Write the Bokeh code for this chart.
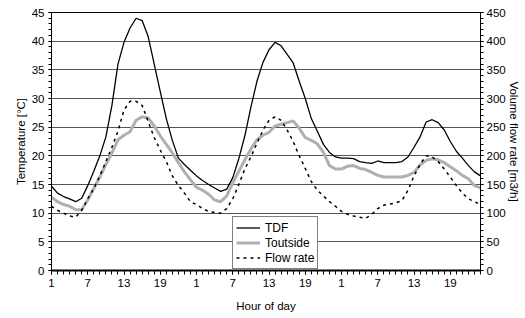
from bokeh.plotting import figure
from bokeh.models import (Range1d, LinearAxis, FixedTicker, SingleIntervalTicker,
                          ColumnDataSource, Legend, LegendItem)
from bokeh.embed import file_html
from bokeh.resources import INLINE

# ---- data ----
hour_index = list(range(1, 73))
major_tick_pos = [1, 7, 13, 19, 25, 31, 37, 43, 49, 55, 61, 67]
tick_labels = ["1", "7", "13", "19", "1", "7", "13", "19", "1", "7", "13", "19"]

tdf = [14.7, 13.5, 12.9, 12.5, 12.0, 12.6, 14.8, 17.3, 20.0, 23.3, 28.8, 36.0,
       39.8, 42.3, 44.0, 43.6, 40.8, 36.0, 31.2, 26.5, 22.7, 19.6, 18.5, 17.5,
       16.5, 15.7, 15.0, 14.4, 13.8, 14.2, 16.2, 19.5, 23.5, 28.5, 33.0, 36.3,
       38.5, 39.8, 39.2, 37.7, 36.2, 33.0, 30.0, 26.5, 24.3, 22.0, 20.6, 19.8,
       19.6, 19.6, 19.5, 19.0, 18.8, 18.7, 19.1, 18.8, 18.8, 18.8, 19.0, 19.8,
       21.5, 23.3, 25.9, 26.3, 25.8, 24.5, 22.5, 20.8, 19.6, 18.3, 17.2, 16.5]

toutside = [12.8, 12.0, 11.5, 11.2, 10.6, 10.6, 12.3, 14.3, 16.3, 18.5, 20.5, 22.8,
            23.6, 24.2, 26.2, 26.8, 26.6, 25.2, 23.5, 22.0, 20.5, 18.8, 17.2, 15.8,
            14.5, 14.0, 13.3, 12.3, 12.0, 13.0, 15.3, 17.3, 19.3, 21.2, 22.8, 23.6,
            24.1, 25.2, 25.5, 25.8, 26.1, 24.8, 23.2, 22.7, 22.1, 20.6, 18.3, 17.7,
            17.7, 18.2, 18.3, 17.8, 17.6, 17.1, 16.6, 16.3, 16.3, 16.3, 16.3, 16.6,
            17.1, 18.4, 19.2, 19.5, 19.3, 18.8, 18.1, 17.4, 16.6, 16.0, 14.8, 14.4]

flow_rate = [112, 105, 100, 95, 93, 105, 125, 143, 165, 190, 215, 243,
             280, 295, 295, 288, 260, 232, 210, 190, 165, 148, 135, 120,
             115, 108, 103, 101, 100, 108, 125, 150, 177, 198, 222, 245,
             262, 268, 262, 245, 225, 200, 178, 155, 140, 130, 120, 112,
             103, 98, 95, 93, 91, 98, 108, 114, 116, 118, 122, 140,
             165, 185, 200, 198, 190, 177, 163, 148, 135, 125, 120, 115]

src = ColumnDataSource(data=dict(h=hour_index, tdf=tdf, tout=toutside, flow=flow_rate))

FONT = "Liberation Sans"

p = figure(width=524, height=317, output_backend="svg", toolbar_location=None,
           x_range=Range1d(1, 72), y_range=Range1d(0, 45),
           min_border_left=51, min_border_top=12, min_border_right=44, min_border_bottom=47)
p.extra_y_ranges = {"flow": Range1d(0, 450)}

p.background_fill_color = "white"
p.border_fill_color = "white"
p.outline_line_color = "black"
p.outline_line_width = 1

p.xgrid.visible = False
p.ygrid.ticker = SingleIntervalTicker(interval=5)
p.ygrid.grid_line_color = "#555555"
p.ygrid.grid_line_width = 1

# x axis
xa = p.xaxis[0]
xa.ticker = FixedTicker(ticks=major_tick_pos, minor_ticks=hour_index)
xa.major_label_overrides = {t: l for t, l in zip(major_tick_pos, tick_labels)}
xa.axis_label = "Hour of day"

# left axis
ya = p.yaxis[0]
ya.ticker = SingleIntervalTicker(interval=5, num_minor_ticks=5)
ya.axis_label = "Temperature [°C]"

# right axis
ra = LinearAxis(y_range_name="flow", axis_label="Volume flow rate [m3/h]",
                ticker=SingleIntervalTicker(interval=50, num_minor_ticks=5))
p.add_layout(ra, "right")

for ax in [xa, ya, ra]:
    ax.axis_line_color = "black"
    ax.axis_line_width = 1
    ax.major_tick_line_color = "black"
    ax.minor_tick_line_color = "black"
    ax.major_tick_in = 0
    ax.minor_tick_in = 0
    ax.major_tick_out = 3
    ax.minor_tick_out = 3
    ax.major_label_text_font = FONT
    ax.major_label_text_font_size = "11.5px"
    ax.major_label_text_color = "black"
    ax.axis_label_text_font = FONT
    ax.axis_label_text_font_size = "11.5px"
    ax.axis_label_text_font_style = "normal"
    ax.axis_label_text_color = "black"
    ax.major_label_standoff = 4
xa.axis_line_width = 2
xa.major_tick_out = 4
xa.minor_tick_out = 4
xa.axis_label_standoff = 10
ya.axis_label_standoff = 2
ra.major_label_standoff = 3
ra.axis_label_standoff = -1

r_tout = p.line("h", "tout", source=src, line_color="#b0b0b0", line_width=3)
r_tdf = p.line("h", "tdf", source=src, line_color="black", line_width=1.3)
r_flow = p.line("h", "flow", source=src, y_range_name="flow", line_color="black",
                line_width=1.5, line_dash="3 4")

legend = Legend(items=[LegendItem(label="TDF", renderers=[r_tdf]),
                       LegendItem(label="Toutside", renderers=[r_tout]),
                       LegendItem(label="Flow rate", renderers=[r_flow])],
                location=(181, 1))
legend.label_text_font = FONT
legend.label_text_font_size = "12px"
legend.label_text_color = "black"
legend.border_line_color = "black"
legend.border_line_width = 1
legend.background_fill_color = "white"
legend.background_fill_alpha = 1
legend.padding = 3
legend.spacing = 0
legend.margin = 0
legend.label_height = 15
legend.glyph_height = 15
legend.glyph_width = 24
legend.label_standoff = 5
p.add_layout(legend, "center")

open("out.html", "w").write(file_html(p, INLINE))
